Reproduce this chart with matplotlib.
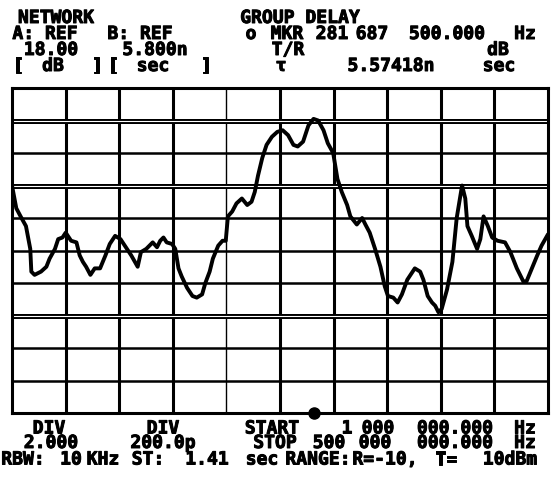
import matplotlib
matplotlib.use('Agg')
import matplotlib.pyplot as plt
import matplotlib.patheffects as pe

freq_mhz = [1, 5, 9, 14, 18, 19, 22, 28, 33, 36,
            41, 44, 48, 51, 56, 61, 64, 67, 70, 74,
            78, 83, 88, 92, 97, 102, 106, 112, 118, 121,
            126, 129, 132, 136, 139, 142, 145, 150, 153, 156,
            159, 164, 169, 173, 178, 181, 185, 188, 193, 197,
            200, 202, 206, 210, 215, 220, 224, 227, 230, 234,
            238, 243, 248, 253, 258, 263, 267, 272, 277, 281.7,
            286, 291, 295, 300, 304, 308, 313, 316, 322, 327,
            330, 334, 339, 344, 348, 351, 356, 360, 364, 369,
            374, 376, 381, 384, 388, 392, 395, 398, 401, 406,
            411, 415, 420, 423, 425, 429, 434, 437, 440, 444,
            448, 453, 460, 465, 471, 477, 480, 485, 490, 494,
            500]
delay_ns = [5.20, 5.06, 5.01, 4.95, 4.81, 4.67, 4.65, 4.67, 4.70, 4.75,
            4.81, 4.87, 4.88, 4.91, 4.86, 4.85, 4.77, 4.73, 4.70, 4.65,
            4.69, 4.69, 4.77, 4.84, 4.89, 4.87, 4.83, 4.77, 4.70, 4.79,
            4.81, 4.83, 4.85, 4.82, 4.86, 4.88, 4.85, 4.84, 4.81, 4.69,
            4.64, 4.57, 4.52, 4.51, 4.53, 4.60, 4.67, 4.75, 4.83, 4.86,
            4.86, 5.01, 5.04, 5.09, 5.12, 5.08, 5.10, 5.16, 5.26, 5.37,
            5.45, 5.50, 5.53, 5.54, 5.51, 5.45, 5.44, 5.47, 5.57, 5.61,
            5.60, 5.54, 5.46, 5.40, 5.24, 5.16, 5.08, 5.01, 4.96, 5.00,
            4.96, 4.91, 4.81, 4.70, 4.58, 4.52, 4.51, 4.48, 4.53, 4.62,
            4.67, 4.69, 4.67, 4.62, 4.52, 4.48, 4.46, 4.42, 4.44, 4.56,
            4.73, 5.00, 5.20, 5.12, 4.95, 4.89, 4.81, 4.87, 5.01, 4.95,
            4.88, 4.86, 4.85, 4.79, 4.69, 4.61, 4.61, 4.69, 4.77, 4.83,
            4.90]

f_start, f_stop = 1.0, 500.0
ref_ns = 5.8      # B: REF 5.800n (linea superior)
div_ns = 0.2      # DIV 200.0p
mkr_mhz = 281.6875
n_div = 10

W, H = 551, 479
fig = plt.figure(figsize=(W / 100, H / 100), dpi=100)
fig.patch.set_facecolor('white')

ax = fig.add_axes([12 / W, 1 - 413 / H, 536 / W, 325 / H])
bottom = ref_ns - n_div * div_ns
ax.set_xlim(f_start, f_stop)
ax.set_ylim(bottom, ref_ns)
ax.set_xticks([])
ax.set_yticks([])
for s in ax.spines.values():
    s.set_linewidth(2.2)
    s.set_color('black')

# reticula 10 x 10
step_f = (f_stop - f_start) / n_div
for k in range(1, n_div):
    lw = 1.0 if k == 4 else 2.2
    ax.axvline(f_start + k * step_f, color='black', lw=lw, zorder=1)
for k in range(1, n_div):
    y = ref_ns - k * div_ns
    if k in (1, 3, 7):
        ax.axhline(y, color='black', lw=3.6, zorder=1)
        ax.axhline(y, color='white', lw=0.8, zorder=1.1)
    else:
        ax.axhline(y, color='black', lw=1.8, zorder=1)

ax.plot(freq_mhz, delay_ns, color='black', lw=2.8, solid_joinstyle='round',
        solid_capstyle='round', zorder=3)
ax.plot([mkr_mhz], [bottom], 'o', color='black', ms=8, clip_on=False, zorder=4)

fnt = dict(family='DejaVu Sans Mono', weight='bold', fontsize=13, color='black',
           ha='center', va='center',
           path_effects=[pe.withStroke(linewidth=0.7, foreground='black')])


def t(x, y, s):
    fig.text(x / W, 1 - y / H, s, **fnt)


# cabecera
for x, s in [(56, 'NETWORK'), (300, 'GROUP DELAY')]:
    t(x, 18, s)
for x, s in [(45, 'A: REF'), (140, 'B: REF'), (251, 'o'), (287, 'MKR'),
             (332, '281'), (372, '687'), (447, '500.000'), (525, 'Hz')]:
    t(x, 34, s)
for x, s in [(51, '18.00'), (155, '5.800n'), (288, 'T/R'), (498, 'dB')]:
    t(x, 50, s)
for x, s in [(18, '['), (53, 'dB'), (97, ']'), (113, '['), (153, 'sec'), (206, ']'),
             (281, 'τ'), (391, '5.57418n'), (499, 'sec')]:
    t(x, 66, s)

# pie
for x, s in [(49, 'DIV'), (163, 'DIV'), (272, 'START'), (347, '1'), (378, '000'),
             (455, '000.000'), (525, 'Hz')]:
    t(x, 428.5, s)
for x, s in [(51, '2.000'), (163, '200.0p'), (275, 'STOP'), (329, '500'), (375, '000'),
             (455, '000.000'), (525, 'Hz')]:
    t(x, 443, s)
for x, s in [(23, 'RBW:'), (71, '10'), (103, 'KHz'), (148, 'ST:'), (207, '1.41'),
             (262, 'sec'), (318, 'RANGE:'), (385, 'R=-10,'), (446, 'T='), (510, '10dBm')]:
    t(x, 459.5, s)

fig.savefig('out.png', dpi=100, facecolor='white')
